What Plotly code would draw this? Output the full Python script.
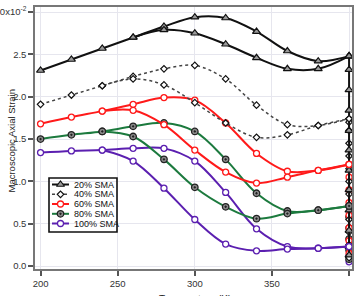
import plotly.graph_objects as go

# ---------------- data (strain in units of 1e-2) ----------------
temps = [200, 220, 240, 260, 280, 300, 320, 340, 360, 380, 400]

s20_a = [2.31, 2.44, 2.57, 2.70, 2.83, 2.94, 2.93, 2.77, 2.54, 2.42, 2.48]
s20_b_t = [260, 280, 300, 320, 340, 360, 380, 400]
s20_b = [2.70, 2.79, 2.75, 2.62, 2.46, 2.33, 2.33, 2.48]
s20_hold = [2.48, 2.32, 2.08, 1.84, 1.60, 1.37, 1.13, 0.90, 0.66, 0.42, 0.23, 0.13]

s40_a = [1.91, 2.02, 2.13, 2.24, 2.33, 2.37, 2.21, 1.90, 1.67, 1.66, 1.74]
s40_b_t = [240, 260, 280, 300, 320, 340, 360, 380, 400]
s40_b = [2.13, 2.21, 2.14, 1.93, 1.69, 1.52, 1.55, 1.66, 1.74]
s40_hold = [1.74, 1.70, 1.60, 1.45, 1.30, 1.15, 1.00, 0.85, 0.70, 0.55, 0.40, 0.25, 0.10]

s60_a = [1.68, 1.76, 1.83, 1.91, 1.99, 1.96, 1.69, 1.33, 1.12, 1.13, 1.20]
s60_b_t = [240, 260, 280, 300, 320, 340, 360, 380, 400]
s60_b = [1.83, 1.84, 1.67, 1.37, 1.11, 0.98, 1.05, 1.13, 1.20]
s60_hold = [1.20, 1.05, 0.90, 0.75, 0.60, 0.45, 0.30, 0.15]

s80_a = [1.50, 1.55, 1.59, 1.65, 1.69, 1.59, 1.26, 0.86, 0.65, 0.66, 0.71]
s80_b_t = [240, 260, 280, 300, 320, 340, 360, 380, 400]
s80_b = [1.59, 1.53, 1.26, 0.93, 0.70, 0.56, 0.62, 0.66, 0.71]
s80_hold = [0.71, 0.58, 0.45, 0.32, 0.19, 0.08]

s100_a = [1.34, 1.36, 1.37, 1.39, 1.39, 1.24, 0.87, 0.44, 0.23, 0.21, 0.23]
s100_b_t = [240, 260, 280, 300, 320, 340, 360, 380, 400]
s100_b = [1.37, 1.24, 0.92, 0.55, 0.26, 0.18, 0.20, 0.21, 0.23]
s100_hold = [0.23, 0.12, 0.05]

labels = ["20% SMA", "40% SMA", "60% SMA", "80% SMA", "100% SMA"]

y_tickvals = [0.0, 0.5, 1.0, 1.5, 2.0, 2.5, 3.0]
y_ticktext = ["0.0", "0.5", "1.0", "1.5", "2.0", "2.5", "3.0x10<sup>-2</sup>"]
x_tickvals = [200, 250, 300, 350, 400]

# ---------------- styles ----------------
styles = [
    dict(line=dict(color="#111111", width=2),
         marker=dict(symbol="triangle-up", size=7, color="#9a9a9a", line=dict(color="#111111", width=1.2))),
    dict(line=dict(color="#444444", width=1.5, dash="dot"),
         marker=dict(symbol="diamond", size=5, color="white", line=dict(color="#111111", width=1.2))),
    dict(line=dict(color="#ff1a1a", width=2),
         marker=dict(symbol="circle", size=6, color="white", line=dict(color="#ff1a1a", width=1.3))),
    dict(line=dict(color="#1c7a3e", width=2),
         marker=dict(symbol="circle-dot", size=6.5, color="#8a8a8a", line=dict(color="#222222", width=1.3))),
    dict(line=dict(color="#5b1fb0", width=2),
         marker=dict(symbol="circle", size=6, color="white", line=dict(color="#5b1fb0", width=1.3))),
]

series = [
    (s20_a, s20_b_t, s20_b, s20_hold),
    (s40_a, s40_b_t, s40_b, s40_hold),
    (s60_a, s60_b_t, s60_b, s60_hold),
    (s80_a, s80_b_t, s80_b, s80_hold),
    (s100_a, s100_b_t, s100_b, s100_hold),
]

fig = go.Figure()

# hold (vertical) segments at 400 K, drawn first
for i in [4, 3, 2, 1, 0]:
    a, bt, b, hold = series[i]
    st = styles[i]
    fig.add_trace(go.Scatter(x=[400] * len(hold), y=hold, mode="lines+markers",
                             line=dict(color=st["line"]["color"], width=st["line"]["width"]),
                             marker=st["marker"], showlegend=False, hoverinfo="skip"))

for i in [4, 3, 2, 1, 0]:
    a, bt, b, hold = series[i]
    st = styles[i]
    fig.add_trace(go.Scatter(x=temps, y=a, mode="lines+markers",
                             line=dict(shape="spline", **st["line"]),
                             marker=st["marker"], showlegend=False))
    fig.add_trace(go.Scatter(x=bt, y=b, mode="lines+markers",
                             line=dict(shape="spline", **st["line"]),
                             marker=st["marker"], showlegend=False))

# ---------------- manual legend on pixel-coordinate overlay axes ----------------
W, H = 356, 296
ml, mr, mt, mb = 35, 4, 7, 27
pw, ph = W - ml - mr, H - mt - mb
leg_rows = [184.5, 194.3, 204.0, 213.8, 223.5]
for i, lab in enumerate(labels):
    st = styles[i]
    y = leg_rows[i]
    fig.add_trace(go.Scatter(x=[52, 69], y=[y, y], mode="lines", xaxis="x2", yaxis="y2",
                             line=st["line"], showlegend=False, hoverinfo="skip"))
    fig.add_trace(go.Scatter(x=[60.5], y=[y], mode="markers", xaxis="x2", yaxis="y2",
                             marker=st["marker"], showlegend=False, hoverinfo="skip"))
    fig.add_annotation(x=72, y=y, xref="x2", yref="y2", text=lab, showarrow=False,
                       xanchor="left", yanchor="middle",
                       font=dict(family="Liberation Sans, Arial", size=9, color="#111111"))

fig.add_shape(type="rect", xref="x2", yref="y2", x0=49, x1=117, y0=178, y1=232,
              line=dict(color="#111111", width=1.6), fillcolor="rgba(255,255,255,0)", layer="above")

# axis titles as annotations (pixel positions converted to paper coords)
fig.add_annotation(text="Macroscopic Axial Strain", textangle=-90, showarrow=False,
                   xref="paper", yref="paper", x=(10.5 - ml) / pw, y=(H - mb - 141) / ph,
                   xanchor="center", yanchor="middle",
                   font=dict(family="Liberation Sans, Arial", size=9.5, color="#222222"))
fig.add_annotation(text="Temperature (K)", showarrow=False,
                   xref="paper", yref="paper", x=(195 - ml) / pw, y=(H - mb - 299) / ph,
                   xanchor="center", yanchor="middle",
                   font=dict(family="Liberation Sans, Arial", size=10, color="#222222"))

axis_font = dict(family="Liberation Sans, Arial", size=9.5, color="#333333")

fig.update_layout(
    width=W, height=H,
    margin=dict(l=ml, r=mr, t=mt, b=mb, autoexpand=False),
    paper_bgcolor="white", plot_bgcolor="white",
    showlegend=False,
    font=axis_font,
    xaxis=dict(range=[196.4, 401.9], tickvals=x_tickvals, ticks="outside", ticklen=5,
               tickwidth=1.5, tickcolor="#555555", automargin=False,
               showline=True, linecolor="#777777", linewidth=1.5, mirror=True,
               showgrid=True, gridcolor="#e6e6ee", gridwidth=1, zeroline=False,
               tickfont=axis_font),
    yaxis=dict(range=[-0.035, 3.06], tickvals=y_tickvals, ticktext=y_ticktext,
               ticks="outside", ticklen=5, tickwidth=1.5, tickcolor="#555555", automargin=False,
               showline=True, linecolor="#777777", linewidth=1.5, mirror=True,
               showgrid=True, gridcolor="#e6e6ee", gridwidth=1, zeroline=False,
               tickfont=axis_font),
    xaxis2=dict(overlaying="x", range=[ml, W - mr], visible=False, fixedrange=True),
    yaxis2=dict(overlaying="y", range=[H - mb, mt], visible=False, fixedrange=True),
)

fig.write_html("out.html")
